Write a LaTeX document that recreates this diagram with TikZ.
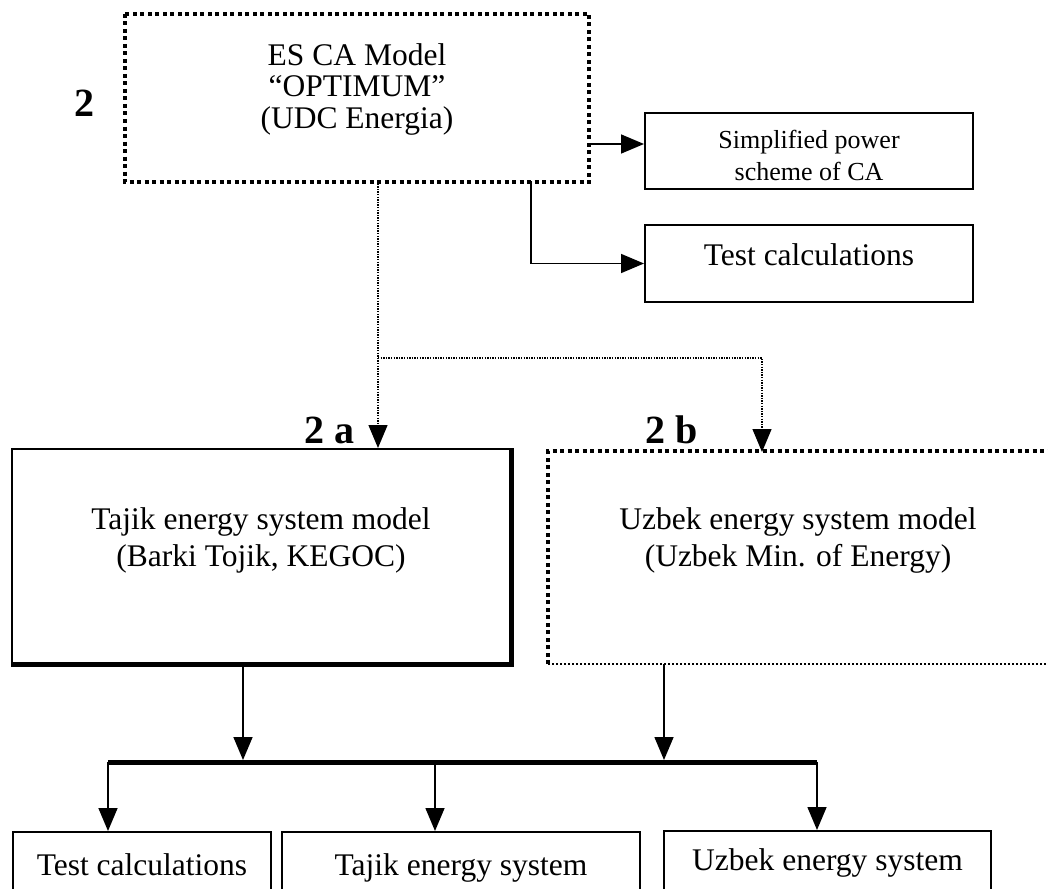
\documentclass[tikz,border=0pt]{standalone}
\usepackage{fontspec}
\setmainfont{Liberation Serif}
\usetikzlibrary{arrows.meta}
\tikzset{
  box/.style={rectangle, inner sep=0pt, line width=2pt},
  thinbox/.style={box, draw},
  dotbox/.style={line width=3.8pt, dash pattern=on 4pt off 3.5pt},
  thindot/.style={line width=2pt, dash pattern=on 2pt off 2pt},
  dotconn/.style={line width=1.3pt, dash pattern=on 1.3pt off 1.3pt},
  arr/.style={line width=1.6pt, -{Triangle[length=23pt,width=19pt]}},
  txt/.style={inner sep=0pt, align=center, font=\fontsize{31.5}{37}\selectfont},
  smalltxt/.style={inner sep=0pt, align=center, font=\fontsize{26}{32}\selectfont},
  lbl/.style={inner sep=0pt, anchor=base, font=\fontsize{40}{40}\selectfont\bfseries},
  bus/.style={line width=5pt}
}
\begin{document}
\begin{tikzpicture}[x=1pt,y=-1pt]
\useasboundingbox (0,0) rectangle (1048,888);
\clip (0,0) rectangle (1048,888);
\fill[white] (0,0) rectangle (1048,888);

% top model box
\node[box, minimum width=462pt, minimum height=166pt] (top) at (357,98) {};
\draw[dotbox] (top.north west) rectangle (top.south east);
\node[txt, font=\fontsize{31.5}{31.5}\selectfont] (toptext) at (357,89) {ES CA Model\\“OPTIMUM”\\(UDC Energia)};
\node[lbl] (l2) at (84,117) {2};

% right boxes
\node[thinbox, minimum width=328pt, minimum height=76pt] (simp) at (809,151) {};
\node[smalltxt] (simptext) at (809,155) {Simplified power\\scheme of CA};
\node[thinbox, minimum width=328pt, minimum height=77pt] (test) at (809,263.5) {};
\node[txt, anchor=base] (testtext) at (809,265) {Test calculations};

\coordinate (a1) at (588,144);
\draw[arr] (a1) -- (a1 -| simp.west);
\coordinate (t1) at (531,181);
\draw[arr] (t1) |- (test.west);

% Tajik box
\node[thinbox, minimum width=498pt, minimum height=214pt] (tajik) at (261,556) {};
\draw[line width=5pt] (tajik.north east) -- (tajik.south east) -- (tajik.south west);
\node[txt] (tajiktext) at (261,540) {Tajik energy system model\\(Barki Tojik, KEGOC)};
\node[lbl] (l2a) at (329,443) {2 a};

% Uzbek box
\node[box, minimum width=511pt, minimum height=211pt] (uzbek) at (804.5,557.5) {};
\draw[dotbox] (uzbek.south west) -- (uzbek.north west) -- (uzbek.north east);
\draw[thindot] (uzbek.south west) -- (uzbek.south east);
\node[txt] (uzbektext) at (798,540) {Uzbek energy system model\\(Uzbek Min. of Energy)};
\node[lbl] (l2b) at (672,443) {2 b};

% dotted connectors
\coordinate (d0) at (378,181);
\coordinate (dj) at (378,358);
\coordinate (d2) at (762,452);
\draw[dotconn, arr, line width=1.3pt] (d0) -- (d0 |- tajik.north);
\draw[dotconn, arr, line width=1.3pt] (dj) -| (d2);

% bus
\coordinate (busL) at (108,762);
\coordinate (busR) at (817,762);
\coordinate (bA) at (243,762);
\coordinate (bB) at (664,762);
\coordinate (bM) at (435,762);
\draw[bus] (busL) -- (busR);
\draw[arr, shorten >=2pt] (bA |- tajik.south) -- (bA);
\draw[arr, shorten >=2pt] (bB |- uzbek.south) -- (bB);

% bottom boxes
\node[thinbox, minimum width=258pt, minimum height=68pt] (b1) at (142,866) {};
\node[thinbox, minimum width=358pt, minimum height=68pt] (b2) at (461,866) {};
\node[thinbox, minimum width=327pt, minimum height=70pt] (b3) at (827.5,866) {};
\node[txt, anchor=base] (b1text) at (142,875) {Test calculations};
\node[txt, anchor=base] (b2text) at (461,875) {Tajik energy system};
\node[txt, anchor=base] (b3text) at (827.5,870) {Uzbek energy system};

\draw[arr] (busL) -- (busL |- b1.north);
\draw[arr] (bM) -- (bM |- b2.north);
\draw[arr] (busR) -- (busR |- b3.north);
\end{tikzpicture}
\end{document}
